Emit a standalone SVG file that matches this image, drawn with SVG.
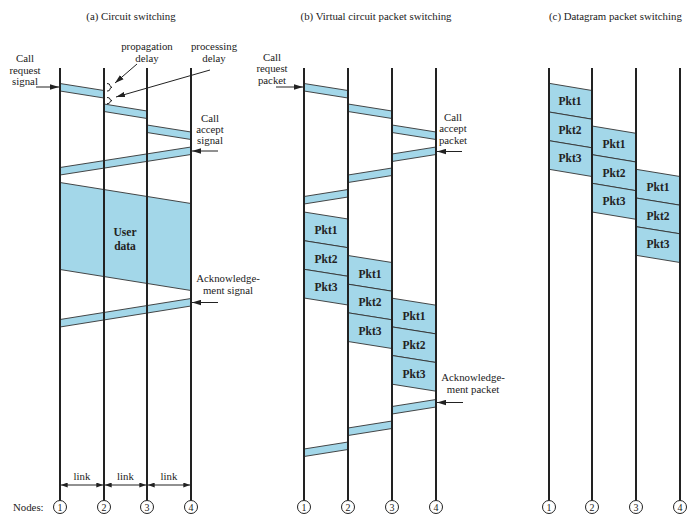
<svg xmlns="http://www.w3.org/2000/svg" width="691" height="515" viewBox="0 0 691 515">
<defs>
<marker id="ah" viewBox="0 0 10 6" refX="10" refY="3" markerWidth="9" markerHeight="6" markerUnits="userSpaceOnUse" orient="auto"><path d="M0,0 L10,3 L0,6 Z" fill="#222"/></marker>
<marker id="lh" viewBox="0 0 8 6" refX="8" refY="3" markerWidth="7" markerHeight="5" markerUnits="userSpaceOnUse" orient="auto-start-reverse"><path d="M0,0 L8,3 L0,6 Z" fill="#222"/></marker>
</defs>
<style>
.bg{fill:#fff}
.ln{stroke:#222;stroke-width:2;fill:none}
.bd{fill:#a3d7e9;stroke:#333;stroke-width:0.9}
.ar{stroke:#222;stroke-width:1;fill:none;marker-end:url(#ah)}
.lk{stroke:#222;stroke-width:1;fill:none;marker-end:url(#lh);marker-start:url(#lh)}
.br{stroke:#222;stroke-width:1;fill:none}
.nc{fill:#fff;stroke:#222;stroke-width:1}
text{font-family:"Liberation Serif","Times New Roman",serif;font-size:10.8px;fill:#222}
.m{text-anchor:middle}
.pk{font-weight:bold;font-size:11.5px;text-anchor:middle}
.nn{font-size:10px;text-anchor:middle}
</style>
<rect class="bg" x="0" y="0" width="691" height="515"/>

<!-- Titles -->
<text class="m" x="131" y="20">(a) Circuit switching</text>
<text class="m" x="376" y="20">(b) Virtual circuit packet switching</text>
<text x="549" y="20">(c) Datagram packet switching</text>

<!-- Panel (a) -->
<g id="panel-a">
<g id="a-bands">
<polygon class="bd" points="60,83.5 104,90.5 104,98 60,91"/>
<polygon class="bd" points="104,104 147,111 147,118.5 104,111.5"/>
<polygon class="bd" points="147,125 191,132 191,139.5 147,132.5"/>
<polygon class="bd" points="191,147 60,167.5 60,175 191,154.5"/>
<polygon class="bd" points="60,182.5 191,203.5 191,290.5 60,269.5"/>
<polygon class="bd" points="191,298.5 60,319.5 60,327 191,306"/>
</g>
<text class="pk" x="125" y="236">User</text>
<text class="pk" x="125" y="250">data</text>
<g id="a-node1"><line class="ln" x1="60" y1="68" x2="60" y2="500.5"/><circle class="nc" cx="60" cy="507" r="6.5"/><text class="nn" x="60" y="510.5">1</text></g>
<g id="a-node2"><line class="ln" x1="104" y1="68" x2="104" y2="500.5"/><circle class="nc" cx="104" cy="507" r="6.5"/><text class="nn" x="104" y="510.5">2</text></g>
<g id="a-node3"><line class="ln" x1="147" y1="68" x2="147" y2="500.5"/><circle class="nc" cx="147" cy="507" r="6.5"/><text class="nn" x="147" y="510.5">3</text></g>
<g id="a-node4"><line class="ln" x1="191" y1="68" x2="191" y2="500.5"/><circle class="nc" cx="191" cy="507" r="6.5"/><text class="nn" x="191" y="510.5">4</text></g>
<path class="br" d="M107,83.5 q3,0 3,2 q0,1.5 2,1.8 q-2,0.3 -2,1.8 q0,2 -3,2"/>
<path class="br" d="M107,97.5 q3,0 3,1.6 q0,1.2 2,1.5 q-2,0.3 -2,1.5 q0,1.6 -3,1.6"/>
<text class="m" x="25" y="62">Call</text>
<text class="m" x="25" y="73.5">request</text>
<text class="m" x="25" y="85">signal</text>
<text class="m" x="147" y="50">propagation</text>
<text class="m" x="147" y="61.5">delay</text>
<text class="m" x="214" y="50">processing</text>
<text class="m" x="214" y="61.5">delay</text>
<text class="m" x="210" y="121.5">Call</text>
<text class="m" x="210" y="132.5">accept</text>
<text class="m" x="210" y="144">signal</text>
<text class="m" x="228" y="282">Acknowledge-</text>
<text class="m" x="228" y="294">ment signal</text>
<text class="m" x="82" y="480">link</text>
<text class="m" x="125.5" y="480">link</text>
<text class="m" x="169" y="480">link</text>
<text x="13" y="510.5">Nodes:</text>
</g>

<!-- Panel (b) -->
<g id="panel-b">
<g id="b-bands">
<polygon class="bd" points="304,83.5 348,90.5 348,98 304,91"/>
<polygon class="bd" points="348,104 392,111 392,118.5 348,111.5"/>
<polygon class="bd" points="392,125 436,132 436,139.5 392,132.5"/>
<polygon class="bd" points="436,147 392,154 392,161.5 436,154.5"/>
<polygon class="bd" points="392,168 348,175 348,182.5 392,175.5"/>
<polygon class="bd" points="348,189.5 304,196.5 304,204 348,197"/>
<polygon class="bd" points="304,212 348,219 348,247.7 304,240.7"/>
<polygon class="bd" points="304,240.7 348,247.7 348,276.3 304,269.3"/>
<polygon class="bd" points="304,269.3 348,276.3 348,305 304,298"/>
<polygon class="bd" points="348,255.5 392,262.5 392,291.2 348,284.2"/>
<polygon class="bd" points="348,284.2 392,291.2 392,319.8 348,312.8"/>
<polygon class="bd" points="348,312.8 392,319.8 392,348.5 348,341.5"/>
<polygon class="bd" points="392,298.2 436,305.2 436,333.9 392,326.9"/>
<polygon class="bd" points="392,326.9 436,333.9 436,362.5 392,355.5"/>
<polygon class="bd" points="392,355.5 436,362.5 436,391.2 392,384.2"/>
<polygon class="bd" points="436,399.5 392,406.5 392,414 436,407"/>
<polygon class="bd" points="392,421 348,428 348,435.5 392,428.5"/>
<polygon class="bd" points="348,442 304,449 304,456.5 348,449.5"/>
</g>
<text class="pk" x="326" y="234">Pkt1</text>
<text class="pk" x="326" y="262.5">Pkt2</text>
<text class="pk" x="326" y="291">Pkt3</text>
<text class="pk" x="370" y="277.5">Pkt1</text>
<text class="pk" x="370" y="306">Pkt2</text>
<text class="pk" x="370" y="335">Pkt3</text>
<text class="pk" x="414" y="320">Pkt1</text>
<text class="pk" x="414" y="349">Pkt2</text>
<text class="pk" x="414" y="377.5">Pkt3</text>
<g id="b-node1"><line class="ln" x1="304" y1="68" x2="304" y2="500.5"/><circle class="nc" cx="304" cy="507" r="6.5"/><text class="nn" x="304" y="510.5">1</text></g>
<g id="b-node2"><line class="ln" x1="348" y1="68" x2="348" y2="500.5"/><circle class="nc" cx="348" cy="507" r="6.5"/><text class="nn" x="348" y="510.5">2</text></g>
<g id="b-node3"><line class="ln" x1="392" y1="68" x2="392" y2="500.5"/><circle class="nc" cx="392" cy="507" r="6.5"/><text class="nn" x="392" y="510.5">3</text></g>
<g id="b-node4"><line class="ln" x1="436" y1="68" x2="436" y2="500.5"/><circle class="nc" cx="436" cy="507" r="6.5"/><text class="nn" x="436" y="510.5">4</text></g>
<text class="m" x="272" y="60.5">Call</text>
<text class="m" x="272" y="72">request</text>
<text class="m" x="272" y="83.5">packet</text>
<text class="m" x="453" y="120.5">Call</text>
<text class="m" x="453" y="132">accept</text>
<text class="m" x="453" y="143.5">packet</text>
<text class="m" x="473" y="381">Acknowledge-</text>
<text class="m" x="473" y="393">ment packet</text>
</g>

<!-- Panel (c) -->
<g id="panel-c">
<g id="c-bands">
<polygon class="bd" points="549,83.3 592,90.5 592,119.2 549,112"/>
<polygon class="bd" points="549,112 592,119.2 592,147.8 549,140.7"/>
<polygon class="bd" points="549,140.7 592,147.8 592,176.5 549,169.3"/>
<polygon class="bd" points="592,126 636,133.3 636,162 592,154.7"/>
<polygon class="bd" points="592,154.7 636,162 636,190.7 592,183.3"/>
<polygon class="bd" points="592,183.3 636,190.7 636,219.3 592,212"/>
<polygon class="bd" points="636,169.3 680,176.5 680,205.2 636,198"/>
<polygon class="bd" points="636,198 680,205.2 680,233.8 636,226.7"/>
<polygon class="bd" points="636,226.7 680,233.8 680,262.5 636,255.3"/>
</g>
<text class="pk" x="570" y="105">Pkt1</text>
<text class="pk" x="570" y="133.5">Pkt2</text>
<text class="pk" x="570" y="162">Pkt3</text>
<text class="pk" x="614" y="148">Pkt1</text>
<text class="pk" x="614" y="176.5">Pkt2</text>
<text class="pk" x="614" y="205">Pkt3</text>
<text class="pk" x="658" y="191">Pkt1</text>
<text class="pk" x="658" y="219.5">Pkt2</text>
<text class="pk" x="658" y="248">Pkt3</text>
<g id="c-node1"><line class="ln" x1="549" y1="68" x2="549" y2="500.5"/><circle class="nc" cx="549" cy="507" r="6.5"/><text class="nn" x="549" y="510.5">1</text></g>
<g id="c-node2"><line class="ln" x1="592" y1="68" x2="592" y2="500.5"/><circle class="nc" cx="592" cy="507" r="6.5"/><text class="nn" x="592" y="510.5">2</text></g>
<g id="c-node3"><line class="ln" x1="636" y1="68" x2="636" y2="500.5"/><circle class="nc" cx="636" cy="507" r="6.5"/><text class="nn" x="636" y="510.5">3</text></g>
<g id="c-node4"><line class="ln" x1="680" y1="68" x2="680" y2="500.5"/><circle class="nc" cx="680" cy="507" r="6.5"/><text class="nn" x="680" y="510.5">4</text></g>
</g>

<!-- Connectors -->
<g id="connectors">
<line class="ar" x1="36" y1="87" x2="59" y2="87"/>
<line class="ar" x1="137" y1="64" x2="115" y2="83"/>
<line class="ar" x1="210" y1="70" x2="116" y2="97"/>
<line class="ar" x1="218" y1="151" x2="192" y2="151"/>
<line class="ar" x1="218" y1="302.5" x2="192" y2="302.5"/>
<line class="lk" x1="61" y1="485" x2="103" y2="485"/>
<line class="lk" x1="105" y1="485" x2="146" y2="485"/>
<line class="lk" x1="148" y1="485" x2="190" y2="485"/>
<line class="ar" x1="276" y1="87" x2="303" y2="87"/>
<line class="ar" x1="462" y1="151.5" x2="437" y2="151.5"/>
<line class="ar" x1="463" y1="402.5" x2="437" y2="402.5"/>
</g>
</svg>
